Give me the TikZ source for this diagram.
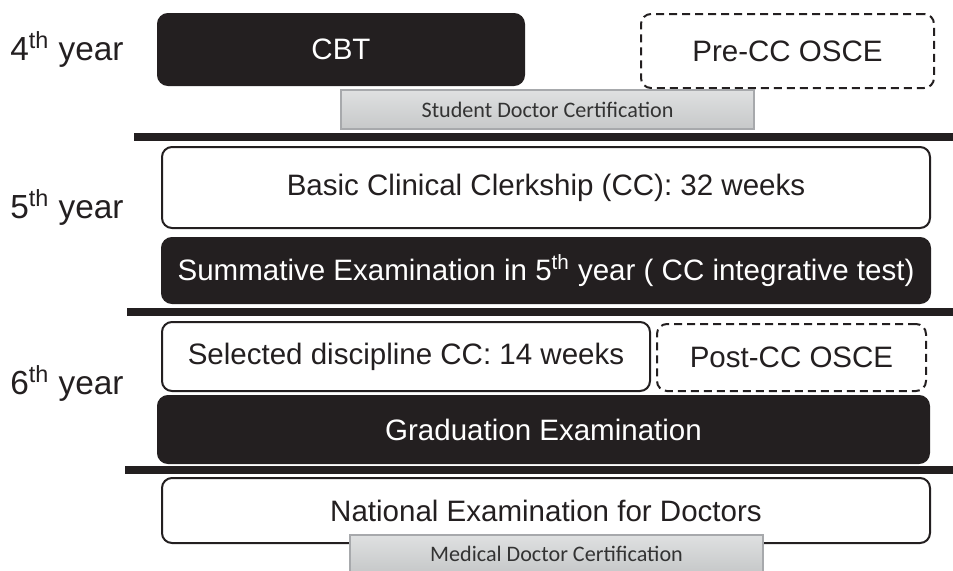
\documentclass[tikz,border=0pt]{standalone}
\usepackage{fontspec}
\setmainfont{Liberation Sans}
\newfontfamily\certfont{Carlito}

\definecolor{boxblack}{HTML}{231F20}
\definecolor{certgray}{HTML}{D1D3D4}
\definecolor{certedge}{HTML}{A7A9AC}
\definecolor{certtext}{HTML}{333333}

\tikzset{
  stage/.style={draw=boxblack, line width=0.04cm, rounded corners=0.2cm, inner sep=0pt,
    font=\fontsize{16.8}{19}\selectfont},
  blackbox/.style={stage, fill=boxblack, text=white},
  whitebox/.style={stage, fill=white, text=boxblack},
  osce/.style={stage, dashed, dash pattern=on 0.16cm off 0.1cm, text=boxblack},
  cert/.style={draw=certedge, line width=0.03cm, top color=certgray!70, bottom color=certgray!95!black,
    inner sep=0pt, text=certtext, font=\certfont\fontsize{12.6}{14}\selectfont},
  yearlabel/.style={anchor=base west, inner sep=0pt, text=boxblack, font=\fontsize{19}{22}\selectfont},
  divider/.style={line width=0.16cm, draw=boxblack}
}

\begin{document}
\begin{tikzpicture}
  \useasboundingbox (0,0) rectangle (19.06,-11.4);

  % Year labels
  \node[yearlabel] (y4) at (0.2,-1.20) {4\textsuperscript{th} year};
  \node[yearlabel] (y5) at (0.2,-4.36) {5\textsuperscript{th} year};
  \node[yearlabel] (y6) at (0.2,-7.88) {6\textsuperscript{th} year};

  % 4th year
  \node[blackbox, minimum width=7.32cm, minimum height=1.42cm] (cbt) at (6.82,-0.99) {CBT};
  \node[osce, minimum width=5.86cm, minimum height=1.48cm] (preosce) at (15.75,-1.02) {Pre-CC OSCE};
  \node[cert, minimum width=8.26cm, minimum height=0.78cm] (sdc) at (10.95,-2.19) {Student Doctor Certification};

  % 5th year
  \node[whitebox, minimum width=15.36cm, minimum height=1.62cm] (basic) at (10.92,-3.75) {Basic Clinical Clerkship (CC): 32 weeks};
  \node[blackbox, minimum width=15.36cm, minimum height=1.30cm] (summ) at (10.92,-5.41)
    {Summative Examination in 5\textsuperscript{th} year ( CC integrative test)};

  % 6th year
  \node[whitebox, minimum width=9.76cm, minimum height=1.38cm] (sel) at (8.12,-7.13) {Selected discipline CC: 14 weeks};
  \node[osce, minimum width=5.38cm, minimum height=1.34cm] (postosce) at (15.83,-7.15) {Post-CC OSCE};
  \node[blackbox, minimum width=15.42cm, minimum height=1.34cm] (grad) at (10.87,-8.59) {Graduation Examination};

  % After graduation
  \node[whitebox, minimum width=15.36cm, minimum height=1.30cm] (nat) at (10.92,-10.21) {National Examination for Doctors};
  \node[cert, minimum width=8.26cm, minimum height=0.74cm] (mdc) at (11.13,-11.07) {Medical Doctor Certification};

  % Dividers between years
  \coordinate (d1a) at (2.68,-2.74);  \coordinate (d1b) at (19.06,-2.74);
  \coordinate (d2a) at (2.54,-6.24);  \coordinate (d2b) at (19.06,-6.24);
  \coordinate (d3a) at (2.50,-9.40);  \coordinate (d3b) at (19.06,-9.40);
  \draw[divider] (d1a) -- (d1b);
  \draw[divider] (d2a) -- (d2b);
  \draw[divider] (d3a) -- (d3b);
\end{tikzpicture}
\end{document}
